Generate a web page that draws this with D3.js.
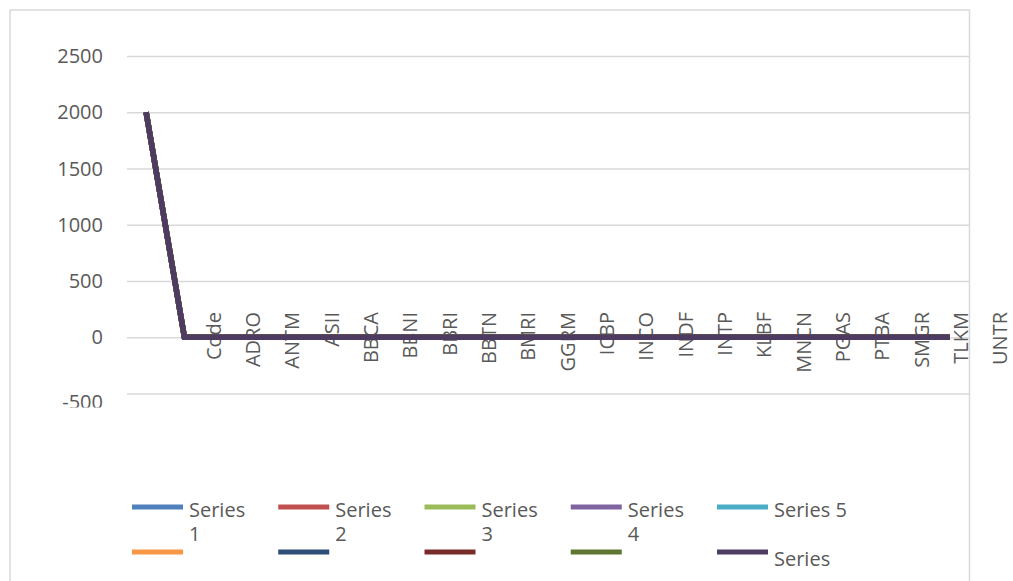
<!DOCTYPE html>
<html><head><meta charset="utf-8">
<script src="https://cdn.jsdelivr.net/npm/d3@7"></script>
<style>body{margin:0;background:#fff}svg{display:block}</style>
</head><body>
<svg id="chart" width="1013" height="581"></svg>
<script>
// ---- data ----
const tickLabels = ["Code","ADRO","ANTM","ASII","BBCA","BBNI","BBRI","BBTN","BMRI","GGRM","ICBP","INCO","INDF","INTP","KLBF","MNCN","PGAS","PTBA","SMGR","TLKM","UNTR"];
const categories = [0,1,2,3,4,5,6,7,8,9,10,11,12,13,14,15,16,17,18,19,20,21];
const yTicks = [-500, 0, 500, 1000, 1500, 2000, 2500];
const seriesNames = ["Series 1","Series 2","Series 3","Series 4","Series 5","Series 6","Series 7","Series 8","Series 9","Series 10"];
const seriesColors = ["#4F81BD","#C0504D","#9BBB59","#8064A2","#4BACC6","#F79646","#2C4D75","#772C2A","#5F7530","#4D3B62"];
const series1  = [2000,0,0,0,0,0,0,0,0,0,0,0,0,0,0,0,0,0,0,0,0,0];
const series2  = [2000,0,0,0,0,0,0,0,0,0,0,0,0,0,0,0,0,0,0,0,0,0];
const series3  = [2000,0,0,0,0,0,0,0,0,0,0,0,0,0,0,0,0,0,0,0,0,0];
const series4  = [2000,0,0,0,0,0,0,0,0,0,0,0,0,0,0,0,0,0,0,0,0,0];
const series5  = [2000,0,0,0,0,0,0,0,0,0,0,0,0,0,0,0,0,0,0,0,0,0];
const series6  = [2000,0,0,0,0,0,0,0,0,0,0,0,0,0,0,0,0,0,0,0,0,0];
const series7  = [2000,0,0,0,0,0,0,0,0,0,0,0,0,0,0,0,0,0,0,0,0,0];
const series8  = [2000,0,0,0,0,0,0,0,0,0,0,0,0,0,0,0,0,0,0,0,0,0];
const series9  = [2000,0,0,0,0,0,0,0,0,0,0,0,0,0,0,0,0,0,0,0,0,0];
const series10 = [2000,0,0,0,0,0,0,0,0,0,0,0,0,0,0,0,0,0,0,0,0,0];
const seriesValues = [series1,series2,series3,series4,series5,series6,series7,series8,series9,series10];
// legend text as it appears in the picture (wrapped / clipped)
const legendLines = [["Series","1"],["Series","2"],["Series","3"],["Series","4"],["Series 5"],[],[],[],[],["Series"]];

// ---- layout ----
const W = 1013, H = 581;
const plot = {left: 127, right: 969, top: 56, bottom: 393.5};
const font = "'Open Sans', 'Noto Sans', sans-serif";
const textColor = "#595959";
const gridColor = "#D9D9D9";

const svg = d3.select("#chart");
svg.append("rect").attr("width", W).attr("height", H).attr("fill", "#fff");

// chart area border
svg.append("rect")
  .attr("x", 10).attr("y", 10).attr("width", 959.5).attr("height", 600)
  .attr("fill", "none").attr("stroke", gridColor).attr("stroke-width", 1.5);

const x = d3.scaleBand().domain(categories).range([plot.left, plot.right]);
const y = d3.scaleLinear().domain([yTicks[0], yTicks[yTicks.length - 1]]).range([plot.bottom, plot.top]);
const labelX = d3.scalePoint().domain(tickLabels).range([220.7, 1007.3]);

// clip for y labels
svg.append("clipPath").attr("id", "ylab")
  .append("rect").attr("x", 0).attr("y", 0).attr("width", plot.left).attr("height", 407.5);

// y axis gridlines
const yAxis = d3.axisLeft(y).tickValues(yTicks).tickSize(-(plot.right - plot.left)).tickFormat(() => "");
const gy = svg.append("g").attr("transform", `translate(${plot.left},0)`).call(yAxis);
gy.select(".domain").remove();
gy.selectAll(".tick line").attr("stroke", gridColor).attr("stroke-width", 1.4);
gy.selectAll(".tick text").remove();

// y labels (clipped at bottom like the reference)
svg.append("g").attr("clip-path", "url(#ylab)")
  .selectAll("text").data(yTicks).join("text")
  .attr("x", plot.left - 24).attr("y", d => y(d))
  .attr("dy", d => d === yTicks[0] ? "0.75em" : "0.36em")
  .attr("text-anchor", "end")
  .attr("fill", textColor).attr("font-family", font).attr("font-size", 20)
  .text(d => String(d));

// category labels (rotated)
svg.append("g").selectAll("text").data(tickLabels).join("text")
  .attr("transform", d => `translate(${labelX(d)},312) rotate(-90)`)
  .attr("text-anchor", "end")
  .attr("fill", textColor).attr("font-family", font).attr("font-size", 20)
  .text(d => d);

// lines
const line = d3.line()
  .x((d, i) => x(categories[i]) + x.bandwidth() / 2)
  .y(d => y(d));
svg.append("g").selectAll("path").data(seriesValues).join("path")
  .attr("d", d => line(d))
  .attr("fill", "none")
  .attr("stroke", (d, i) => seriesColors[i])
  .attr("stroke-width", 5.5)
  .attr("stroke-linejoin", "miter");

// legend
const legX = d3.scaleLinear().domain([0, 4]).range([132, 717]);
const legRowY = [507, 552];
const legTextOffset = [10, 14];
const leg = svg.append("g").selectAll("g").data(seriesNames).join("g")
  .attr("transform", (d, i) => `translate(${legX(i % 5)},${legRowY[Math.floor(i / 5)]})`);
leg.append("line").attr("x1", 0).attr("x2", 51).attr("y1", 0).attr("y2", 0)
  .attr("stroke", (d, i) => seriesColors[i]).attr("stroke-width", 5);
leg.each(function(d, i) {
  if (!legendLines[i].length) return;
  const g = d3.select(this);
  const off = legTextOffset[Math.floor(i / 5)];
  const t = g.append("text").attr("x", 57).attr("y", off)
    .attr("fill", textColor).attr("font-family", font).attr("font-size", 20);
  legendLines[i].forEach((ln, j) => {
    t.append("tspan").attr("x", 57).attr("dy", j === 0 ? 0 : 24).text(ln);
  });
});
</script>
</body></html>
